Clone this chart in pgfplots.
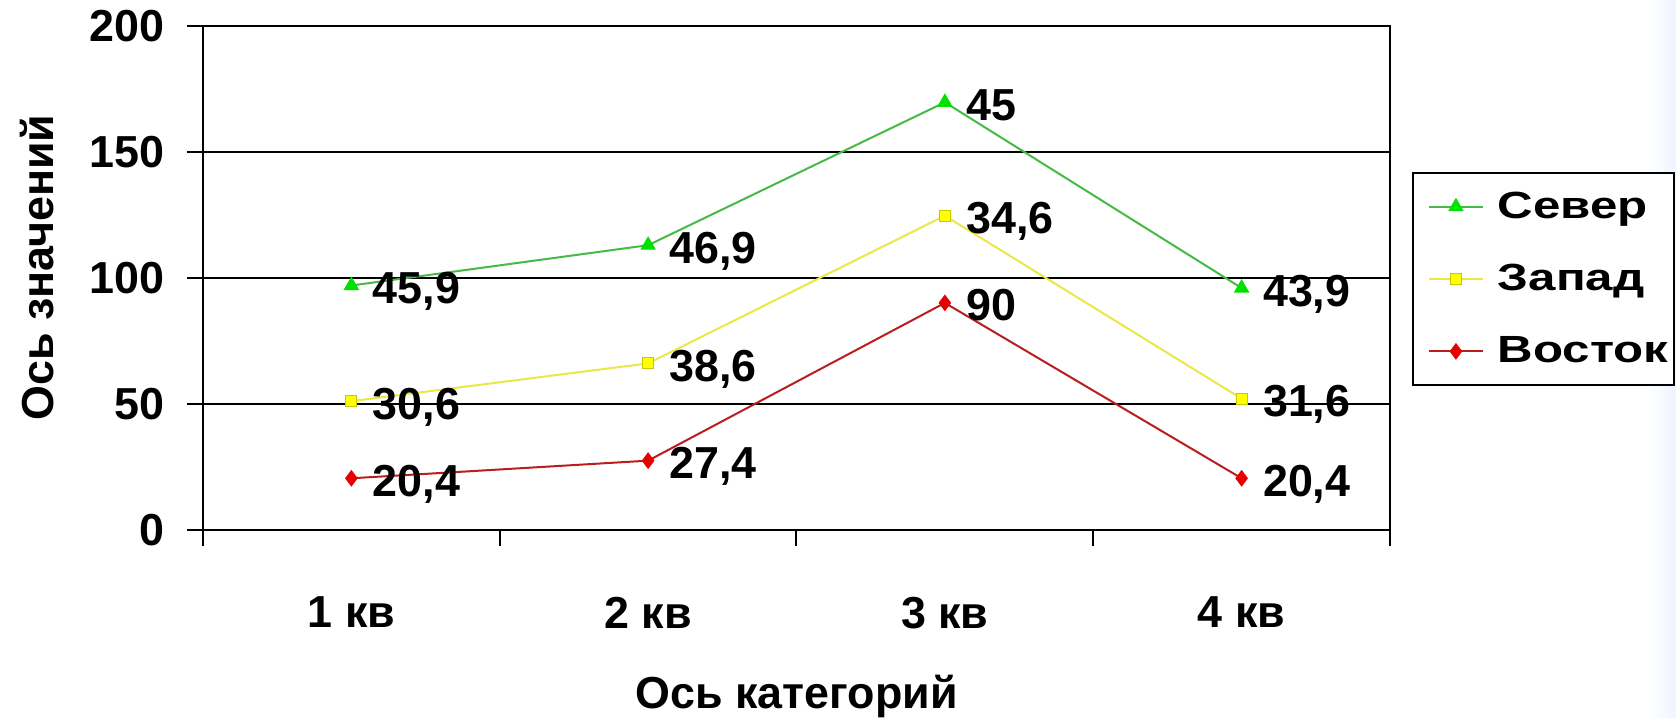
\documentclass[border=0pt]{standalone}
\usepackage{pgfplots}
\pgfplotsset{compat=1.18}
\usepackage{pgfplotstable}
\usepackage{fontspec}
\setmainfont{Liberation Sans}
\newfontfamily\legfont{Liberation Sans}[FakeStretch=1.3]
\definecolor{severline}{RGB}{70,185,70}
\definecolor{severmark}{RGB}{0,225,0}
\definecolor{zapadline}{RGB}{232,232,70}
\definecolor{zapadmark}{RGB}{255,255,0}
\definecolor{zapadedge}{RGB}{200,200,0}
\definecolor{vostokline}{RGB}{185,30,30}
\definecolor{vostokmark}{RGB}{230,0,0}
\definecolor{bgblue}{RGB}{238,245,255}
\pgfplotstableread{
x vostok zapad sever
1 20.4 30.6 45.9
2 27.4 38.6 46.9
3 90   34.6 45
4 20.4 31.6 43.9
}\data
\newcommand{\bigfont}{\fontsize{22.5}{27}\selectfont\bfseries}
\begin{document}
\begin{tikzpicture}
\useasboundingbox (-101.5bp,-94.15bp) rectangle (736.5bp,264.85bp);
\shade[left color=white, right color=bgblue] (722bp,-94.15bp) rectangle (736.5bp,264.85bp);
\begin{axis}[
  at={(0,0)}, anchor=south west,
  scale only axis, width=593.5bp, height=252bp,
  clip=false,
  stack plots=y,
  xmin=0.5, xmax=4.5, ymin=0, ymax=200,
  xtick={1,2,3,4}, xticklabels={1 кв,2 кв,3 кв,4 кв},
  minor xtick={0.5,1.5,2.5,3.5,4.5},
  ytick={0,50,100,150,200},
  tick align=outside, xtick pos=bottom, ytick pos=left,
  major tick length=8bp, minor tick length=8bp,
  major x tick style={draw=none},
  tick style={black, line width=1bp},
  minor tick style={black, line width=1bp},
  axis line style={black, line width=1bp},
  ymajorgrids, major grid style={black, line width=1bp},
  /pgf/number format/assume math mode=true,
  /pgf/number format/use comma,
  ticklabel style={font=\bigfont},
  xticklabel style={yshift=-22bp},
  yticklabel style={xshift=-8bp},
  xlabel={Ось категорий}, ylabel={Ось значений},
  label style={font=\bigfont},
  xlabel style={at={(axis description cs:0.5,-0.331)}, anchor=center},
  ylabel style={at={(axis description cs:-0.14,0.52)}, anchor=center},
  point meta=explicit,
  nodes near coords={\pgfmathprintnumber{\pgfplotspointmeta}},
  every node near coord/.append style={anchor=base west, inner sep=0pt, xshift=10.5bp, yshift=-9bp, text=black, font=\bigfont},
  legend style={at={(axis description cs:1.0185,0.7097)}, anchor=north west, draw=black, line width=1bp, fill=white,
    font=\fontsize{19}{23}\legfont\bfseries, inner xsep=3bp, inner ysep=9.5bp, row sep=21.5bp,
    nodes={inner sep=0pt}},
  legend cell align=left,
  reverse legend,
  legend image code/.code={\path[draw=none] (0bp,0bp) -- (39.5bp,0bp);\draw[mark repeat=2,mark phase=2,#1] plot coordinates {(5bp,0bp) (18.5bp,0bp) (32bp,0bp)};},
]
\addplot[vostokline, line width=1bp, mark=diamond*, mark size=3.8bp, mark options={fill=vostokmark, draw=vostokmark, line width=0.5bp}]
  table[x=x, y=vostok, meta=vostok] {\data};
\addplot[zapadline, line width=1bp, mark=square*, mark size=2.8bp, mark options={fill=zapadmark, draw=zapadedge, line width=0.5bp}]
  table[x=x, y=zapad, meta=zapad] {\data};
\addplot[severline, line width=1bp, mark=triangle*, mark size=4bp, mark options={fill=severmark, draw=severmark, line width=0.5bp}]
  table[x=x, y=sever, meta=sever] {\data};
\legend{Восток,Запад,Север}
\end{axis}
\end{tikzpicture}
\end{document}
